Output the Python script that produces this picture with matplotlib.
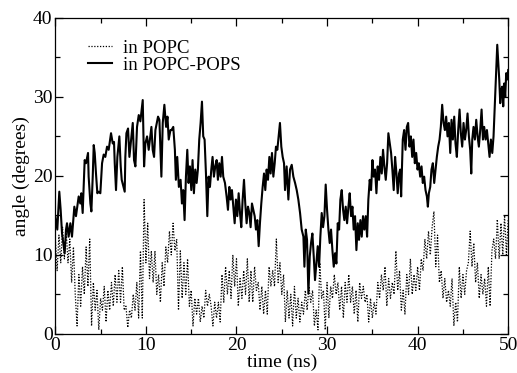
import numpy as np
import matplotlib
matplotlib.use("Agg")
import matplotlib.pyplot as plt

# tilt angle of the peptide
# solid trace: in POPC-POPS (time in ns, angle in degrees)
pops_time = [
    0.00, 0.22, 0.44, 0.59, 0.74, 0.92, 1.03, 1.18, 1.29, 1.47, 1.66, 1.84,
    2.10, 2.28, 2.58, 2.76, 2.87, 3.02, 3.24, 3.39, 3.61, 3.68, 3.87, 3.98,
    4.13, 4.24, 4.35, 4.49, 4.64, 4.79, 4.97, 5.16, 5.34, 5.52, 5.71, 5.89,
    6.15, 6.34, 6.48, 6.56, 6.70, 6.85, 7.07, 7.22, 7.33, 7.66, 7.73, 7.85,
    8.03, 8.18, 8.40, 8.55, 8.69, 8.84, 9.02, 9.21, 9.39, 9.65, 9.80, 9.94,
    10.13, 10.31, 10.61, 10.75, 10.90, 11.05, 11.34, 11.49, 11.71, 11.86,
    12.04, 12.23, 12.38, 12.52, 12.71,
    12.83, 13.02, 13.20, 13.31, 13.46, 13.64, 13.83, 13.98, 14.12, 14.27,
    14.42, 14.57, 14.71, 14.86, 15.01, 15.15, 15.30, 15.45, 15.60, 15.74,
    15.89, 16.04, 16.19, 16.33, 16.48, 16.63, 16.78, 16.92, 17.07, 17.22,
    17.36, 17.51, 17.66, 17.81, 17.95, 18.10, 18.25, 18.40, 18.54, 18.73,
    18.91, 19.06, 19.21, 19.35, 19.50, 19.65, 19.80, 19.94, 20.09, 20.24,
    20.39, 20.53, 20.68, 20.83, 20.97, 21.12, 21.27, 21.42, 21.56, 21.71,
    21.86, 22.01, 22.15, 22.30, 22.45, 22.59, 22.74, 22.89, 23.04, 23.18,
    23.33, 23.48, 23.63, 23.77, 23.92, 24.07, 24.22, 24.36, 24.51, 24.66,
    24.80, 24.95, 25.10, 25.25,
    25.36, 25.54, 25.73, 25.91, 26.10, 26.28, 26.47, 26.65, 26.83, 27.02,
    27.20, 27.39, 27.50, 27.65, 27.79, 27.94, 28.09, 28.23, 28.38, 28.53,
    28.67, 28.82, 28.97, 29.12, 29.26, 29.41, 29.56, 29.71, 29.85, 30.00,
    30.15, 30.29, 30.44, 30.59, 30.74, 30.88, 31.03, 31.18, 31.33, 31.47,
    31.62, 31.77, 31.91, 32.06, 32.21, 32.36, 32.50, 32.65, 32.80, 32.94,
    33.09, 33.24, 33.39, 33.53, 33.68, 33.83, 33.97, 34.12, 34.27, 34.42,
    34.56, 34.71, 34.86, 35.01, 35.15, 35.30, 35.45, 35.59, 35.74, 35.89,
    36.04, 36.18, 36.33, 36.48, 36.63, 36.77, 36.92, 37.07, 37.21, 37.36,
    37.51, 37.66, 37.80, 37.95,
    38.07, 38.18, 38.36, 38.51, 38.66, 38.81, 38.95, 39.10, 39.25, 39.40,
    39.54, 39.69, 39.84, 39.99, 40.13, 40.28, 40.43, 40.57, 40.72, 40.87,
    41.02, 41.13, 41.24, 41.39, 41.53, 41.68, 41.83, 41.98, 42.12, 42.27,
    42.42, 42.56, 42.71, 42.86, 43.01, 43.15, 43.30, 43.45, 43.60, 43.74,
    43.89, 44.04, 44.18, 44.33, 44.48, 44.63, 44.77, 44.92, 45.07, 45.22,
    45.36, 45.51, 45.66, 45.80, 45.92, 46.03, 46.17, 46.32, 46.47, 46.62,
    46.76, 46.91, 47.06, 47.21, 47.35, 47.50, 47.65, 47.79, 47.94, 48.09,
    48.24, 48.38, 48.53, 48.68, 48.79, 48.90, 49.01, 49.12, 49.23, 49.34,
    49.45, 49.56, 49.67, 49.78, 49.89, 50.00,
]
pops_angle = [
    14.9, 13.2, 18.0, 15.7, 12.7, 11.1, 10.2, 13.2, 14.0, 12.3, 14.0, 12.3,
    16.1, 14.9, 17.4, 16.5, 17.8, 15.3, 22.0, 21.6, 22.9, 19.9, 16.5, 15.5,
    19.9, 23.9, 22.9, 20.3, 17.8, 18.0, 17.8, 21.6, 22.7, 22.4, 23.7, 23.3,
    25.4, 24.1, 24.3, 21.6, 18.2, 22.4, 25.0, 21.2, 19.5, 18.0, 22.4, 25.4,
    26.0, 22.4, 25.0, 26.7, 22.0, 21.2, 26.2, 27.7, 26.9, 29.6, 21.2, 24.1,
    25.0, 23.3, 26.2, 23.3, 22.4, 25.8, 27.5, 27.1, 19.9, 26.7,
    29.0, 26.2, 27.5, 24.6, 25.8,
    25.8, 26.2, 23.3, 19.5, 22.4, 18.6, 19.5, 16.5, 18.2, 14.4,
    19.9, 23.3, 19.1, 21.2, 18.2, 22.0, 17.8, 20.8, 19.1, 20.8,
    24.6, 26.7, 29.4, 25.0, 24.6, 20.3, 14.9, 19.9, 18.6, 20.8,
    22.4, 19.9, 21.2, 22.0, 19.5, 21.6, 19.9, 22.4, 19.9, 19.1,
    17.4, 15.7, 18.6, 17.0, 18.2, 16.1, 14.0, 17.0, 14.9, 17.8,
    15.3, 13.5, 17.0, 19.5, 16.5, 14.0, 16.1, 15.3, 13.5, 16.5,
    15.7, 14.9, 13.2, 14.4, 11.1, 14.0, 16.5, 18.6, 20.3, 18.2,
    20.8, 19.5, 22.4, 20.3, 22.9, 19.9, 21.6, 23.7, 23.3, 25.0,
    26.7, 23.7, 22.4, 21.6,
    18.2, 21.2, 17.0, 20.8, 21.4, 19.9, 19.1, 18.2, 17.0, 15.3,
    13.2, 12.3, 8.5, 13.2, 11.9, 5.1, 9.8, 11.5, 12.7, 9.8,
    6.8, 8.9, 11.1, 8.5, 12.3, 15.3, 13.5, 14.9, 18.9, 15.7,
    13.2, 11.5, 13.2, 10.6, 8.5, 10.2, 8.9, 14.0, 13.2, 17.0,
    18.2, 15.7, 14.4, 16.1, 14.0, 16.1, 17.8, 14.9, 16.1, 13.2,
    14.9, 10.6, 14.0, 11.9, 14.4, 12.3, 14.9, 13.2, 14.9, 12.3,
    17.0, 19.5, 18.2, 22.0, 19.9, 20.8, 17.8, 21.2, 19.5, 22.4,
    20.3, 23.3, 21.2, 19.5, 21.6, 25.4, 24.1, 22.9, 20.8, 18.2,
    22.4, 20.3, 17.8, 20.3,
    20.8, 17.4, 24.6, 25.8, 23.3, 26.2, 26.7, 23.7, 25.0, 22.4,
    24.6, 21.6, 22.9, 20.8, 21.6, 19.9, 21.2, 19.1, 19.9, 18.2,
    17.4, 16.1, 17.8, 18.6, 20.8, 21.6, 19.1, 20.8, 22.4, 23.7,
    24.6, 26.2, 29.0, 26.7, 25.8, 27.5, 25.0, 26.7, 22.9, 27.1,
    24.6, 27.5, 24.1, 22.4, 25.8, 28.4, 25.4, 23.7, 26.7, 24.6,
    25.8, 27.9, 25.0, 23.3, 20.3, 24.6, 26.2, 24.6, 27.1, 25.0,
    23.7, 25.8, 28.4, 24.6, 26.2, 24.6, 25.8, 24.1, 22.4, 24.6,
    22.9, 25.0, 29.2, 33.4, 36.6, 34.3, 32.2, 29.2, 30.9, 31.3,
    28.8, 31.7, 30.0, 33.0, 32.2, 33.4,
]

# dotted trace: in POPC, one reading every 0.2 ns from 0 to 50 ns
popc_angle = [
    12.0, 8.0, 12.5, 9.0, 13.5, 9.5, 13.0, 9.0, 12.0, 6.5,
    11.0, 5.0, 1.0, 7.5, 3.5, 8.5, 5.0, 11.0, 6.0, 12.0,
    1.0, 6.5, 3.0, 5.5, 0.5, 4.5, 3.0, 6.0, 1.5, 5.5,
    3.0, 6.5, 3.5, 7.5, 4.0, 8.0, 4.0, 8.5, 3.0, 3.5,
    0.8, 3.0, 2.0, 5.0, 3.0, 6.5, 2.0, 10.5, 2.0, 17.0,
    9.0, 14.0, 7.0, 10.5, 6.5, 10.5, 5.0, 7.5, 4.0, 9.0,
    6.0, 11.0, 9.0, 13.0, 10.0, 14.0, 10.5, 12.0, 3.0, 10.5,
    4.5, 9.0, 5.0, 9.5, 3.5, 5.5, 1.0, 4.5, 2.5, 4.5,
    1.5, 3.5, 2.0, 5.5, 3.5, 5.0, 3.5, 1.0, 4.0, 2.0,
    4.0, 1.5, 7.5, 4.0, 8.5, 5.0, 8.0, 4.5, 10.0, 6.0,
    9.5, 3.5, 7.0, 4.5, 8.0, 5.0, 9.5, 4.0, 8.0, 4.0,
    8.5, 5.5, 6.5, 3.0, 6.0, 2.5, 5.5, 2.5, 8.5, 6.0,
    8.0, 6.0, 12.0, 6.5, 9.0, 5.0, 7.5, 1.5, 5.5, 2.0,
    5.0, 1.0, 6.0, 2.0, 4.5, 1.5, 4.0, 2.5, 5.5, 3.0,
    6.0, 4.0, 5.5, 1.0, 3.0, 0.5, 9.0, 4.5, 5.5, 0.5,
    6.5, 2.0, 6.0, 4.5, 7.5, 5.0, 6.5, 3.0, 6.0, 2.0,
    6.5, 4.0, 7.5, 4.0, 6.0, 2.5, 5.5, 1.5, 6.5, 4.5,
    6.0, 4.0, 5.0, 1.5, 4.5, 2.0, 4.0, 2.5, 6.5, 4.5,
    7.5, 5.5, 8.5, 3.5, 7.0, 4.5, 6.5, 5.0, 10.5, 5.5,
    8.0, 3.0, 5.5, 2.5, 7.5, 5.0, 9.5, 5.0, 7.5, 5.5,
    8.5, 5.5, 9.5, 8.0, 12.0, 9.5, 13.0, 10.0, 13.5, 15.5,
    8.5, 12.5, 6.5, 8.0, 4.5, 7.0, 4.0, 5.5, 3.5, 7.0,
    1.0, 4.0, 1.5, 8.5, 4.5, 7.5, 5.0, 8.0, 9.0, 13.0,
    8.5, 11.5, 6.5, 9.0, 4.5, 7.5, 5.0, 7.0, 3.5, 8.5,
    3.5, 10.5, 12.0, 9.5, 14.5, 9.5, 14.0, 10.0, 15.0, 10.0,
    14.5,
]
popc_time = np.linspace(0, 50, len(popc_angle))

plt.rcParams["font.family"] = ["Liberation Serif", "DejaVu Serif"]

fig = plt.figure(figsize=(5.17, 3.73), dpi=100)
ax = fig.add_axes([0.107, 0.105, 0.876, 0.847])

ax.plot(popc_time, popc_angle, color="black", lw=0.9, ls=(0, (1, 1.3)),
        label="in POPC")
ax.plot(pops_time, pops_angle, color="black", lw=1.5, label="in POPC-POPS")

ax.set_xlim(0, 50)
ax.set_ylim(0, 40)
ax.set_xticks([0, 10, 20, 30, 40, 50])
ax.set_yticks([0, 10, 20, 30, 40])
ax.set_xticks(np.arange(5, 50, 10), minor=True)
ax.set_yticks(np.arange(5, 40, 10), minor=True)
ax.tick_params(which="both", direction="in", top=True, right=True,
               labelsize=14, width=0.9)
ax.tick_params(which="major", length=6, pad=2)
ax.tick_params(which="minor", length=3.5)
for s in ax.spines.values():
    s.set_linewidth(0.9)

ax.set_xlabel("time (ns)", fontsize=14, labelpad=0)
ax.set_ylabel("angle (degrees)", fontsize=14, labelpad=2)

ax.legend(loc="upper left", bbox_to_anchor=(0.055, 0.955), frameon=False,
          fontsize=13.5, handlelength=1.3, handletextpad=0.6,
          labelspacing=0.0, borderaxespad=0)

fig.savefig("out.png", dpi=100)
